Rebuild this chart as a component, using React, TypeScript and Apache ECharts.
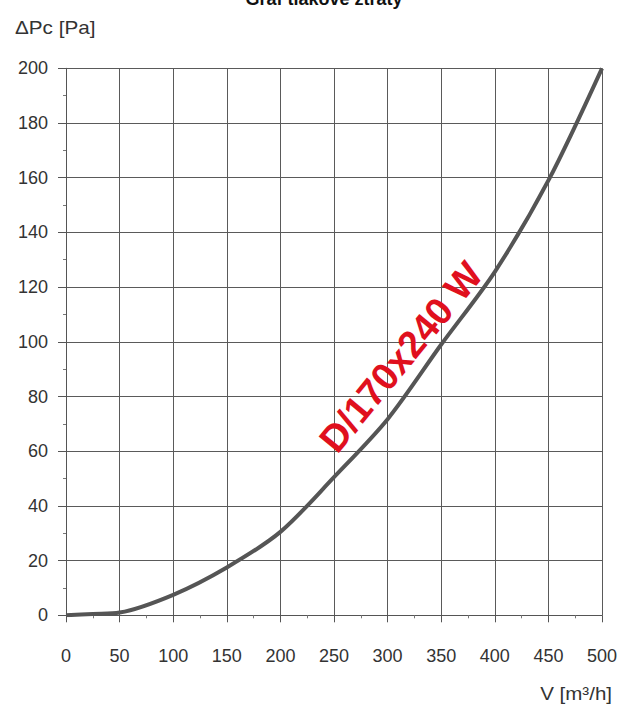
import React, { useEffect, useRef } from "react";
import * as echarts from "echarts";

const flowValues = [0, 25, 50, 100, 150, 200, 250, 300, 350, 400, 450, 500];
const pressureValues = [0, 0.5, 1, 7.5, 17.5, 30.5, 50.5, 71.7, 99, 125.6, 159, 200];
const titleText = "Graf tlakové ztráty";
const yAxisName = "ΔPc [Pa]";
const xAxisName = "V [m³/h]";
const curveLabel = "D/170x240 W";

const FONT = "'Liberation Sans', Arial, sans-serif";

export default function App() {
  const ref = useRef<HTMLDivElement>(null);
  useEffect(() => {
    if (!ref.current) return;
    const chart = echarts.init(ref.current, null, { renderer: "svg" });
    chart.setOption({
      animation: false,
      backgroundColor: "#ffffff",
      textStyle: { fontFamily: FONT },
      grid: { left: 66, right: 20, top: 68.3, bottom: 90.7, containLabel: false },
      xAxis: {
        type: "value",
        min: 0,
        max: 500,
        interval: 50,
        axisLine: { show: true, lineStyle: { color: "#555", width: 1 } },
        axisTick: { show: true, length: 7, lineStyle: { color: "#555" } },
        minorTick: { show: true, splitNumber: 2, length: 3, lineStyle: { color: "#777" } },
        splitLine: { show: true, lineStyle: { color: "#5a5a5a", width: 1 } },
        axisLabel: { color: "#333", fontSize: 18, margin: 32, fontFamily: FONT },
      },
      yAxis: {
        type: "value",
        min: 0,
        max: 200,
        interval: 20,
        axisLine: { show: true, lineStyle: { color: "#555", width: 1 } },
        axisTick: { show: true, length: 8, lineStyle: { color: "#555" } },
        minorTick: { show: true, splitNumber: 2, length: 3, lineStyle: { color: "#777" } },
        splitLine: { show: true, lineStyle: { color: "#5a5a5a", width: 1 } },
        axisLabel: { color: "#333", fontSize: 18, margin: 18, fontFamily: FONT },
      },
      series: [
        {
          type: "line",
          data: flowValues.map((v, i) => [v, pressureValues[i]]),
          smooth: 0.3,
          showSymbol: false,
          lineStyle: { color: "#555555", width: 4 },
        },
      ],
      graphic: [
        {
          type: "text",
          x: 324,
          y: -1.5,
          style: {
            text: titleText,
            font: `bold 18px ${FONT}`,
            fill: "#111",
            textAlign: "center",
            textVerticalAlign: "middle",
          },
        },
        {
          type: "text",
          x: 15,
          y: 28,
          scaleX: 1.15,
          style: {
            text: yAxisName,
            font: `18px ${FONT}`,
            fill: "#333",
            textAlign: "left",
            textVerticalAlign: "middle",
          },
        },
        {
          type: "text",
          x: 612,
          y: 694,
          scaleX: 1.14,
          style: {
            text: xAxisName,
            font: `18px ${FONT}`,
            fill: "#333",
            textAlign: "right",
            textVerticalAlign: "middle",
          },
        },
        {
          type: "text",
          x: 401,
          y: 357,
          rotation: (50.5 * Math.PI) / 180,
          z: 100,
          style: {
            text: curveLabel,
            font: `bold 38px ${FONT}`,
            fill: "#e0101e",
            textAlign: "center",
            textVerticalAlign: "middle",
          },
        },
      ],
    });
    return () => chart.dispose();
  }, []);
  return <div ref={ref} style={{ width: 622, height: 706, position: "absolute", left: 0, top: 0 }} />;
}
